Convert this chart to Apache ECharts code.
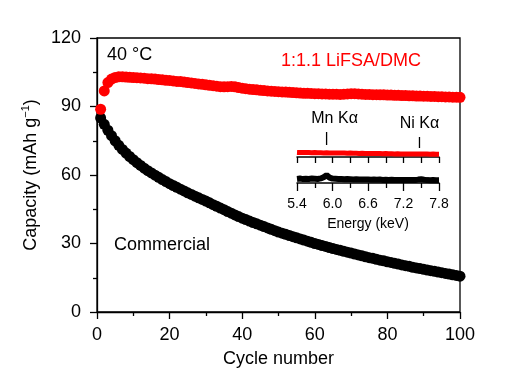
<!DOCTYPE html>
<html><head><meta charset="utf-8">
<script src="https://cdn.jsdelivr.net/npm/echarts@6/dist/echarts.min.js"></script>
<style>html,body{margin:0;padding:0;background:#fff}#c{width:516px;height:389px}</style>
</head><body><div id="c"></div>
<script>
const FONT = '"Liberation Sans", Arial, sans-serif';
const cycles = [1,2,3,4,5,6,7,8,9,10,11,12,13,14,15,16,17,18,19,20,21,22,23,24,25,26,27,28,29,30,31,32,33,34,35,36,37,38,39,40,41,42,43,44,45,46,47,48,49,50,51,52,53,54,55,56,57,58,59,60,61,62,63,64,65,66,67,68,69,70,71,72,73,74,75,76,77,78,79,80,81,82,83,84,85,86,87,88,89,90,91,92,93,94,95,96,97,98,99,100];
const commercial = [85.0,82.2,79.6,77.2,75.0,73.0,71.2,69.6,68.1,66.7,65.4,64.2,63.0,61.9,60.9,59.9,59.0,58.0,57.1,56.2,55.4,54.6,53.8,53.0,52.2,51.5,50.7,50.0,49.3,48.6,47.8,47.0,46.3,45.5,44.8,44.0,43.3,42.5,41.8,41.1,40.5,39.8,39.2,38.6,38.0,37.4,36.8,36.2,35.6,35.0,34.5,34.0,33.5,33.0,32.5,32.0,31.5,31.0,30.5,30.0,29.6,29.1,28.7,28.2,27.8,27.4,27.0,26.6,26.2,25.8,25.4,25.0,24.6,24.2,23.8,23.5,23.1,22.7,22.4,22.0,21.7,21.3,21.0,20.6,20.3,20.0,19.6,19.3,19.0,18.7,18.4,18.1,17.8,17.5,17.2,16.9,16.6,16.3,16.0,15.7];
const lifsa = [88.8,96.8,100.5,102.0,102.7,103.0,103.0,102.9,102.8,102.7,102.6,102.5,102.4,102.2,102.1,102.0,101.8,101.7,101.5,101.4,101.2,101.0,100.9,100.7,100.5,100.3,100.1,99.9,99.7,99.5,99.3,99.1,98.9,98.7,98.6,98.7,98.8,98.6,98.3,98.0,97.8,97.6,97.4,97.3,97.1,97.0,96.8,96.7,96.6,96.5,96.4,96.3,96.2,96.1,96.0,95.9,95.8,95.8,95.7,95.6,95.6,95.5,95.5,95.4,95.4,95.4,95.3,95.4,95.5,95.6,95.6,95.5,95.4,95.3,95.3,95.2,95.2,95.1,95.1,95.0,95.0,94.9,94.9,94.8,94.8,94.7,94.7,94.6,94.6,94.5,94.5,94.4,94.4,94.3,94.3,94.2,94.2,94.1,94.1,94.0];
const energies = [5.40,5.45,5.50,5.55,5.60,5.65,5.70,5.75,5.80,5.85,5.90,5.95,6.00,6.05,6.10,6.15,6.20,6.25,6.30,6.35,6.40,6.45,6.50,6.55,6.60,6.65,6.70,6.75,6.80,6.85,6.90,6.95,7.00,7.05,7.10,7.15,7.20,7.25,7.30,7.35,7.40,7.45,7.50,7.55,7.60,7.65,7.70,7.75,7.80];
const edsLifsa = [2.7,2.6,2.7,2.6,2.6,2.5,2.6,2.5,2.5,2.4,2.5,2.4,2.4,2.3,2.4,2.3,2.3,2.2,2.3,2.2,2.2,2.1,2.2,2.1,2.1,2.0,2.1,2.0,2.0,1.9,2.0,1.9,1.9,1.8,1.9,1.8,1.8,1.8,1.7,1.8,1.7,1.8,1.8,1.7,1.7,1.6,1.7,1.6,1.6];
const edsCommercial = [2.4,2.6,2.3,2.5,2.4,2.6,2.5,2.4,2.7,3.4,4.6,3.2,2.6,2.5,2.4,2.3,2.2,2.3,2.2,2.1,2.2,2.0,2.1,2.0,2.1,1.9,2.0,1.9,2.0,1.8,1.9,1.8,1.9,1.8,1.7,1.8,1.7,1.8,1.7,1.8,1.7,2.0,2.2,1.9,1.7,1.6,1.7,1.6,1.6];
const peaks = [{name:'Mn K\u03b1', energy:5.9, dx:8, ly:119, y1:132, y2:145},{name:'Ni K\u03b1', energy:7.47, dx:0, ly:124, y1:137, y2:148}];

const pairs = (xs, ys) => xs.map((x, i) => [x, ys[i]]);
const chart = echarts.init(document.getElementById('c'));
const axisCol = '#000';
const ln = {show:true, onZero:false, lineStyle:{color:axisCol, width:1.3}};
chart.setOption({
  animation:false,
  textStyle:{fontFamily:FONT},
  grid:[
    {left:97, right:56, top:38, bottom:77, show:true, borderColor:'#000', borderWidth:1.3},
    {left:297, right:77, top:140, bottom:232},
    {left:297, right:77, top:166, bottom:206}
  ],
  xAxis:[
    {gridIndex:0, type:'value', min:0, max:100, interval:20,
     axisLine:ln, axisTick:{show:true, length:7, lineStyle:{color:axisCol, width:1.3}},
     minorTick:{show:true, splitNumber:2, length:4, lineStyle:{color:axisCol, width:1.3}},
     splitLine:{show:false},
     axisLabel:{fontSize:18, color:'#000', margin:14, fontFamily:FONT},
     name:'Cycle number', nameLocation:'middle', nameGap:38,
     nameTextStyle:{fontSize:18, color:'#000', fontFamily:FONT}},
    {gridIndex:1, type:'value', min:5.4, max:7.8, interval:0.3,
     axisLine:{show:true, onZero:false, lineStyle:{color:axisCol, width:1.5}},
     axisTick:{show:true, length:6, lineStyle:{color:axisCol, width:1.3}},
     axisLabel:{show:false}, splitLine:{show:false}},
    {gridIndex:2, type:'value', min:5.4, max:7.8, interval:0.6,
     axisLine:{show:true, onZero:false, lineStyle:{color:axisCol, width:1.5}},
     axisTick:{show:true, length:8, lineStyle:{color:axisCol, width:1.3}},
     minorTick:{show:true, splitNumber:2, length:5, lineStyle:{color:axisCol, width:1.3}},
     splitLine:{show:false},
     axisLabel:{fontSize:14, color:'#000', margin:14, fontFamily:FONT, formatter:v => v.toFixed(1)},
     name:'Energy (keV)', nameLocation:'middle', nameGap:34,
     nameTextStyle:{fontSize:14, color:'#000', fontFamily:FONT}}
  ],
  yAxis:[
    {gridIndex:0, type:'value', min:0, max:120, interval:30,
     axisLine:ln, axisTick:{show:true, length:7, lineStyle:{color:axisCol, width:1.3}},
     minorTick:{show:true, splitNumber:2, length:4, lineStyle:{color:axisCol, width:1.3}},
     splitLine:{show:false},
     axisLabel:{fontSize:18, color:'#000', margin:16, fontFamily:FONT},
     name:'{a|Capacity (mAh g}{s|\u22121}{a|)}', nameLocation:'middle', nameGap:55,
     nameTextStyle:{rich:{
       a:{fontSize:18, color:'#000', fontFamily:FONT, lineHeight:22},
       s:{fontSize:11, color:'#000', fontFamily:FONT, verticalAlign:'top', lineHeight:14}
     }}},
    {gridIndex:1, type:'value', min:0, max:10, show:false},
    {gridIndex:2, type:'value', min:0, max:10, show:false}
  ],
  series:[
    {type:'scatter', xAxisIndex:0, yAxisIndex:0, data:pairs(cycles, commercial),
     symbol:'circle', symbolSize:11, itemStyle:{color:'#000', opacity:1}},
    {type:'scatter', xAxisIndex:0, yAxisIndex:0, data:pairs(cycles, lifsa),
     symbol:'circle', symbolSize:11, itemStyle:{color:'#ff0000', opacity:1}},
    {type:'line', xAxisIndex:1, yAxisIndex:1, data:pairs(energies, edsLifsa),
     showSymbol:false, lineStyle:{color:'#ff0000', width:5}},
    {type:'line', xAxisIndex:2, yAxisIndex:2, data:pairs(energies, edsCommercial),
     showSymbol:false, lineStyle:{color:'#000', width:6}}
  ]
});
const g = [
  {type:'text', x:107, y:55, style:{text:'40 \u00b0C', font:'18px ' + FONT, fill:'#000', align:'left', verticalAlign:'middle'}},
  {type:'text', x:281, y:61.5, style:{text:'1:1.1 LiFSA/DMC', font:'18px ' + FONT, fill:'#f00', align:'left', verticalAlign:'middle'}},
  {type:'text', x:114, y:245.5, style:{text:'Commercial', font:'18px ' + FONT, fill:'#000', align:'left', verticalAlign:'middle'}}
];
peaks.forEach(p => {
  const px = chart.convertToPixel({xAxisIndex:1}, p.energy);
  g.push({type:'line', shape:{x1:px, y1:p.y1, x2:px, y2:p.y2}, style:{stroke:'#000', lineWidth:1.3}});
  g.push({type:'text', x:px + p.dx, y:p.ly, style:{text:p.name, font:'16px ' + FONT, fill:'#000', align:'center', verticalAlign:'middle'}});
});
chart.setOption({graphic:g});
</script></body></html>
